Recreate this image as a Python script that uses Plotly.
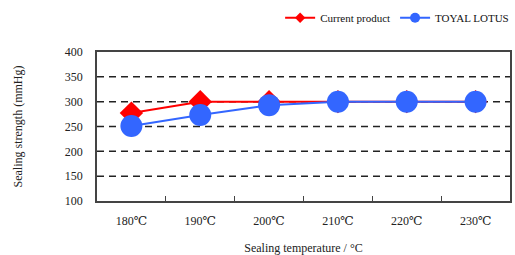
import plotly.graph_objects as go

categories = ["180℃", "190℃", "200℃", "210℃", "220℃", "230℃"]
current_product = [277, 300, 300, 300, 300, 300]
toyal_lotus = [251, 273, 293, 300, 300, 300]
y_ticks = [100, 150, 200, 250, 300, 350, 400]

FF = "'Times New Roman', 'Liberation Serif', 'DejaVu Serif', serif"

fig = go.Figure()
fig.add_trace(go.Scatter(
    x=categories, y=current_product, name="Current product",
    mode="lines+markers", showlegend=False,
    line=dict(color="#ff0000", width=2),
    marker=dict(symbol="diamond", size=18, color="#ff0000"),
))
fig.add_trace(go.Scatter(
    x=categories, y=toyal_lotus, name="TOYAL LOTUS",
    mode="lines+markers", showlegend=False,
    line=dict(color="#3366ff", width=2),
    marker=dict(symbol="circle", size=22, color="#3366ff"),
))
# legend entries with small markers
fig.add_trace(go.Scatter(
    x=[None], y=[None], name="Current product", mode="lines+markers",
    line=dict(color="#ff0000", width=2),
    marker=dict(symbol="diamond", size=8, color="#ff0000"),
))
fig.add_trace(go.Scatter(
    x=[None], y=[None], name="TOYAL LOTUS", mode="lines+markers",
    line=dict(color="#3366ff", width=2),
    marker=dict(symbol="circle", size=10, color="#3366ff"),
))

for v in [150, 200, 250, 300, 350]:
    fig.add_shape(type="line", xref="paper", x0=0, x1=1, yref="y", y0=v, y1=v,
                  line=dict(color="#222222", width=1.5, dash="7px,5px"), layer="below")

fig.update_layout(
    width=515, height=255,
    margin=dict(l=97, r=5, t=52, b=54, autoexpand=False),
    plot_bgcolor="white", paper_bgcolor="white",
    font=dict(family=FF, size=12, color="#222222"),
    legend=dict(orientation="h", x=1.01, xanchor="right", y=1.23, yanchor="middle",
                font=dict(family=FF, size=11, color="#111111"),
                itemwidth=30, tracegroupgap=0, bgcolor="rgba(0,0,0,0)"),
    showlegend=True,
)
fig.update_xaxes(
    type="category", showline=True, linecolor="#444444", linewidth=1.5, mirror=True,
    showgrid=False, ticks="inside", tickson="boundaries", ticklen=5,
    tickcolor="#444444", tickfont=dict(family=FF, size=12, color="#222222"),
    ticklabelstandoff=8, automargin=False,
    title=dict(text="Sealing temperature / °C", font=dict(family=FF, size=12), standoff=16),
)
fig.update_yaxes(
    range=[100, 400], tickvals=y_ticks, showline=True, linecolor="#444444",
    linewidth=1.5, mirror=True, showgrid=False, ticks="", zeroline=False,
    tickfont=dict(family=FF, size=12, color="#222222"), ticklabelstandoff=10,
    automargin=False,
    title=dict(text="Sealing strength (mmHg)", font=dict(family=FF, size=12), standoff=40),
)

fig.write_html("out.html", config={"displayModeBar": False},
               post_script="document.body.style.margin='0';")
